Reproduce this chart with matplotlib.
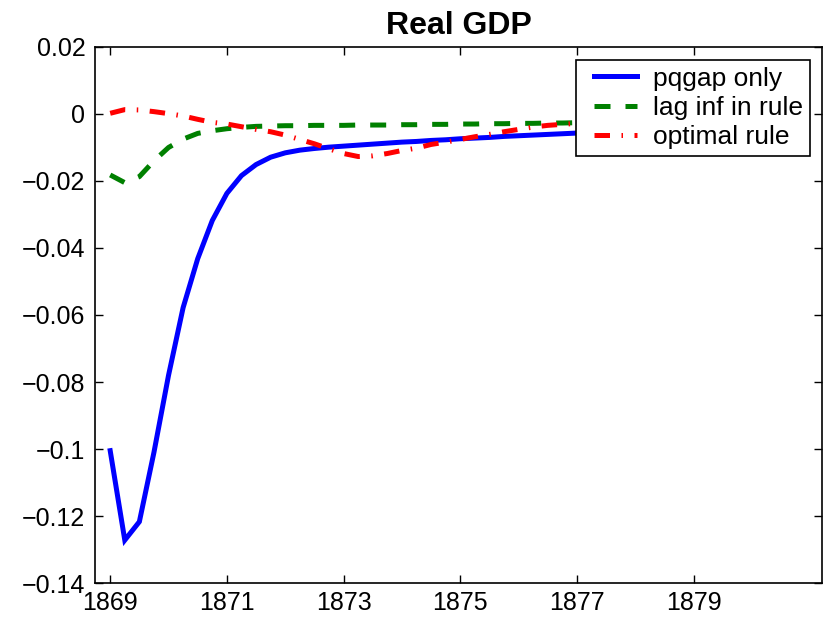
import numpy as np
import matplotlib
matplotlib.use("Agg")
import matplotlib.pyplot as plt
from matplotlib.lines import Line2D
from matplotlib.legend_handler import HandlerLine2D

plt.rcParams['font.family'] = ['Liberation Sans', 'DejaVu Sans']

# quarterly responses, 1869Q1 onwards
start_year = 1869
pqgap_only = [
    -0.1005, -0.1272, -0.1217, -0.1010, -0.0780, -0.0578, -0.0432, -0.0318,
    -0.0237, -0.0184, -0.0151, -0.0129, -0.0116, -0.0108, -0.0103, -0.0099,
    -0.0096, -0.0093, -0.0090, -0.0087, -0.0084, -0.0082, -0.0079, -0.0077,
    -0.0074, -0.0072, -0.0070, -0.0067, -0.0065, -0.0063, -0.0061, -0.0059,
    -0.0057, -0.0055, -0.0053, -0.0051, -0.0049, -0.0047, -0.0045, -0.0043,
]
lag_inf_rule = [
    -0.0182, -0.0205, -0.0187, -0.0140, -0.0100, -0.0075, -0.0058, -0.0050,
    -0.0044, -0.0040, -0.0037, -0.0036, -0.0035, -0.0035, -0.0034, -0.0034,
    -0.0034, -0.0033, -0.0033, -0.0033, -0.0032, -0.0032, -0.0031, -0.0031,
    -0.0030, -0.0030, -0.0029, -0.0029, -0.0028, -0.0028, -0.0027, -0.0027,
    -0.0026, -0.0026, -0.0025, -0.0025, -0.0024, -0.0024, -0.0023, -0.0023,
]
optimal_rule = [
    0.0002, 0.0013, 0.0012, 0.0007, 0.0001, -0.0006, -0.0016, -0.0025,
    -0.0030, -0.0038, -0.0046, -0.0053, -0.0063, -0.0076, -0.0089, -0.0104,
    -0.0118, -0.0127, -0.0125, -0.0118, -0.0109, -0.0102, -0.0091, -0.0084,
    -0.0076, -0.0068, -0.0061, -0.0053, -0.0046, -0.0039, -0.0034, -0.0031,
    -0.0028, -0.0026, -0.0024, -0.0022, -0.0021, -0.0020, -0.0019, -0.0018,
]
xticks = [1869, 1871, 1873, 1875, 1877, 1879]
yticks = [0.02, 0, -0.02, -0.04, -0.06, -0.08, -0.1, -0.12, -0.14]

t = start_year + np.arange(len(pqgap_only)) / 4.0

fig = plt.figure(figsize=(8.35, 6.18), dpi=100)
ax = fig.add_axes([0.1138, 0.0566, 0.8706, 0.8674])

lw = 3.6
ax.plot(t, pqgap_only, color='b', lw=lw, solid_joinstyle='miter', label='pqgap only')
ax.plot(t, lag_inf_rule, color=(0, 0.5, 0), lw=lw, dashes=(3.2, 3.0), label='lag inf in rule')
ax.plot(t, optimal_rule, color='r', lw=lw, dashes=(3.1, 2.3, 0.3, 2.3), label='optimal rule')

ax.set_xlim(1868.74, 1881.2)
ax.set_ylim(-0.14, 0.02)
ax.set_xticks(xticks)
ax.set_yticks(yticks)
ax.set_yticklabels(['0.02', '0', '\u22120.02', '\u22120.04', '\u22120.06',
                    '\u22120.08', '\u22120.1', '\u22120.12', '\u22120.14'])
ax.tick_params(direction='in', length=6, width=1, labelsize=18, top=True, right=True)
ax.tick_params(axis='y', pad=7)
ax.tick_params(axis='x', pad=6)
for s in ax.spines.values():
    s.set_linewidth(1.2)

ax.set_title('Real GDP', fontsize=23, fontweight='bold', pad=9)

# xpad pushes the legend samples away from the left edge of the box
leg = ax.legend(loc='upper right', bbox_to_anchor=(0.9835, 0.976), fontsize=19,
                frameon=True, fancybox=False, framealpha=1, edgecolor='black',
                handlelength=2.05, handletextpad=0.6, borderpad=0.26, labelspacing=0.2,
                borderaxespad=0, handler_map={Line2D: HandlerLine2D(xpad=0.42)})
leg.get_frame().set_linewidth(1.2)
leg.set_zorder(5)

fig.savefig('out.png', dpi=100)
